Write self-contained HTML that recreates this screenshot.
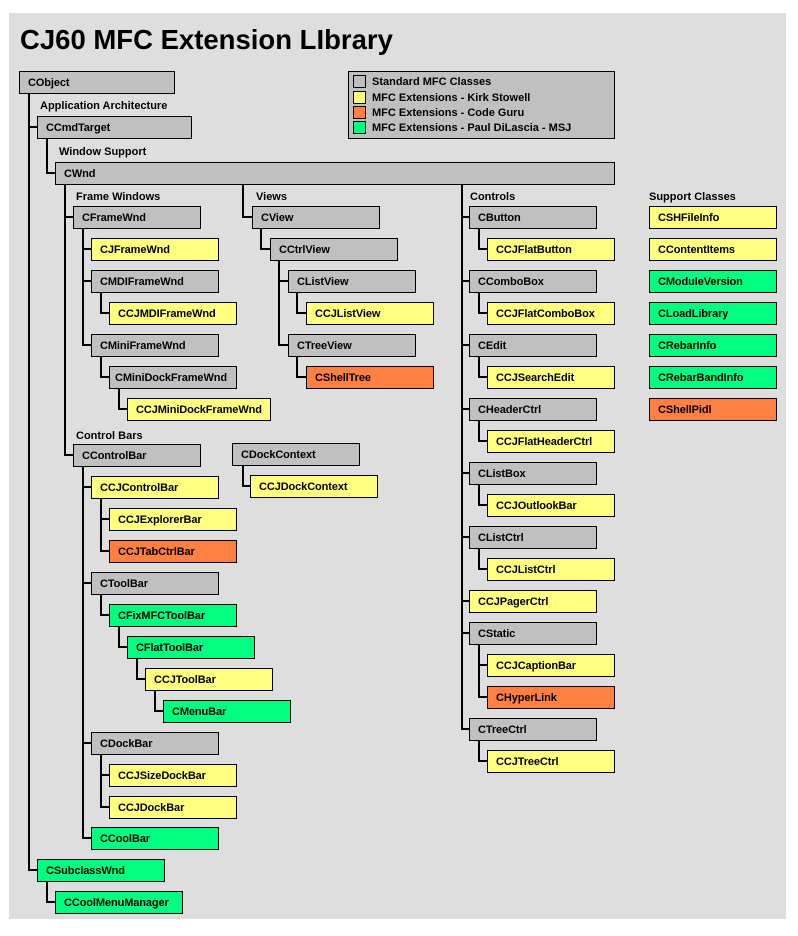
<!DOCTYPE html>
<html><head><meta charset="utf-8"><style>
body{margin:0;width:798px;height:936px;background:#fff;position:relative;overflow:hidden;font-family:"Liberation Sans",Arial,sans-serif;font-weight:bold;font-size:11px;color:#000}
.bg{position:absolute;left:9px;top:13px;width:777px;height:906px;background:#dedede}
.b{position:absolute;box-sizing:border-box;height:23px;width:128px;border:1px solid #000;padding-left:8px;line-height:22px;white-space:nowrap;letter-spacing:-0.1px}
.g{background:#c0c0c0}.y{background:#ffff80}.o{background:#ff8040}.n{background:#00ff80}
.v{position:absolute;width:2px;background:#000}
.h{position:absolute;height:2px;background:#000}
.t{position:absolute;line-height:13px}
.sw{position:absolute;width:11px;height:11px;border:1px solid #000;left:353px}
</style></head><body>
<div class="bg"></div>
<div class="t" style="left:20px;top:24px;font-size:27.5px;line-height:32px">CJ60 MFC Extension LIbrary</div>

<!-- legend -->
<div class="b g" style="left:348px;top:71px;width:267px;height:68px"></div>
<div class="sw g" style="top:75px"></div><div class="t" style="left:372px;top:76px">Standard MFC Classes</div>
<div class="sw y" style="top:91px"></div><div class="t" style="left:372px;top:92px">MFC Extensions - Kirk Stowell</div>
<div class="sw o" style="top:106px"></div><div class="t" style="left:372px;top:107px">MFC Extensions - Code Guru</div>
<div class="sw n" style="top:121px"></div><div class="t" style="left:372px;top:122px">MFC Extensions - Paul DiLascia - MSJ</div>

<!-- section labels -->
<div class="t" style="left:40px;top:100px">Application Architecture</div>
<div class="t" style="left:59px;top:146px">Window Support</div>
<div class="t" style="left:76px;top:191px">Frame Windows</div>
<div class="t" style="left:256px;top:191px">Views</div>
<div class="t" style="left:470px;top:191px">Controls</div>
<div class="t" style="left:649px;top:191px">Support Classes</div>
<div class="t" style="left:76px;top:430px">Control Bars</div>

<!-- lines -->
<div class="v" style="left:28px;top:94px;height:777px"></div>
<div class="h" style="left:28px;top:126px;width:10px"></div>
<div class="h" style="left:28px;top:869px;width:10px"></div>
<div class="v" style="left:46px;top:138px;height:36px"></div>
<div class="h" style="left:46px;top:172px;width:10px"></div>
<div class="v" style="left:64px;top:184px;height:272px"></div>
<div class="h" style="left:64px;top:216px;width:10px"></div>
<div class="h" style="left:64px;top:454px;width:10px"></div>
<div class="v" style="left:242px;top:184px;height:34px"></div>
<div class="h" style="left:242px;top:216px;width:11px"></div>
<div class="v" style="left:461px;top:184px;height:546px"></div>
<div class="h" style="left:461px;top:216px;width:9px"></div>
<div class="h" style="left:461px;top:280px;width:9px"></div>
<div class="h" style="left:461px;top:344px;width:9px"></div>
<div class="h" style="left:461px;top:408px;width:9px"></div>
<div class="h" style="left:461px;top:472px;width:9px"></div>
<div class="h" style="left:461px;top:536px;width:9px"></div>
<div class="h" style="left:461px;top:600px;width:9px"></div>
<div class="h" style="left:461px;top:632px;width:9px"></div>
<div class="h" style="left:461px;top:728px;width:9px"></div>
<!-- controls children -->
<div class="v" style="left:478px;top:228px;height:22px"></div><div class="h" style="left:478px;top:248px;width:10px"></div>
<div class="v" style="left:478px;top:292px;height:22px"></div><div class="h" style="left:478px;top:312px;width:10px"></div>
<div class="v" style="left:478px;top:356px;height:22px"></div><div class="h" style="left:478px;top:376px;width:10px"></div>
<div class="v" style="left:478px;top:420px;height:22px"></div><div class="h" style="left:478px;top:440px;width:10px"></div>
<div class="v" style="left:478px;top:484px;height:22px"></div><div class="h" style="left:478px;top:504px;width:10px"></div>
<div class="v" style="left:478px;top:548px;height:22px"></div><div class="h" style="left:478px;top:568px;width:10px"></div>
<div class="v" style="left:478px;top:644px;height:54px"></div><div class="h" style="left:478px;top:664px;width:10px"></div><div class="h" style="left:478px;top:696px;width:10px"></div>
<div class="v" style="left:478px;top:740px;height:22px"></div><div class="h" style="left:478px;top:760px;width:10px"></div>
<!-- frame -->
<div class="v" style="left:82px;top:228px;height:118px"></div>
<div class="h" style="left:82px;top:248px;width:10px"></div>
<div class="h" style="left:82px;top:280px;width:10px"></div>
<div class="h" style="left:82px;top:344px;width:10px"></div>
<div class="v" style="left:100px;top:292px;height:22px"></div><div class="h" style="left:100px;top:312px;width:10px"></div>
<div class="v" style="left:100px;top:356px;height:22px"></div><div class="h" style="left:100px;top:376px;width:10px"></div>
<div class="v" style="left:118px;top:388px;height:22px"></div><div class="h" style="left:118px;top:408px;width:10px"></div>
<!-- views -->
<div class="v" style="left:260px;top:228px;height:22px"></div><div class="h" style="left:260px;top:248px;width:11px"></div>
<div class="v" style="left:278px;top:260px;height:86px"></div><div class="h" style="left:278px;top:280px;width:11px"></div><div class="h" style="left:278px;top:344px;width:11px"></div>
<div class="v" style="left:296px;top:292px;height:22px"></div><div class="h" style="left:296px;top:312px;width:11px"></div>
<div class="v" style="left:296px;top:356px;height:22px"></div><div class="h" style="left:296px;top:376px;width:11px"></div>
<!-- control bars -->
<div class="v" style="left:82px;top:466px;height:373px"></div>
<div class="h" style="left:82px;top:486px;width:10px"></div>
<div class="h" style="left:82px;top:582px;width:10px"></div>
<div class="h" style="left:82px;top:742px;width:10px"></div>
<div class="h" style="left:82px;top:837px;width:10px"></div>
<div class="v" style="left:100px;top:498px;height:54px"></div><div class="h" style="left:100px;top:518px;width:10px"></div><div class="h" style="left:100px;top:550px;width:10px"></div>
<div class="v" style="left:100px;top:594px;height:22px"></div><div class="h" style="left:100px;top:614px;width:10px"></div>
<div class="v" style="left:118px;top:626px;height:22px"></div><div class="h" style="left:118px;top:646px;width:10px"></div>
<div class="v" style="left:136px;top:658px;height:22px"></div><div class="h" style="left:136px;top:678px;width:10px"></div>
<div class="v" style="left:154px;top:690px;height:22px"></div><div class="h" style="left:154px;top:710px;width:10px"></div>
<div class="v" style="left:100px;top:754px;height:54px"></div><div class="h" style="left:100px;top:774px;width:10px"></div><div class="h" style="left:100px;top:806px;width:10px"></div>
<div class="v" style="left:242px;top:465px;height:22px"></div><div class="h" style="left:242px;top:485px;width:9px"></div>
<div class="v" style="left:46px;top:881px;height:22px"></div><div class="h" style="left:46px;top:901px;width:10px"></div>

<!-- boxes -->
<div class="b g" style="left:19px;top:71px;width:156px">CObject</div>
<div class="b g" style="left:37px;top:116px;width:155px">CCmdTarget</div>
<div class="b g" style="left:55px;top:162px;width:560px">CWnd</div>

<div class="b g" style="left:73px;top:206px">CFrameWnd</div>
<div class="b y" style="left:91px;top:238px">CJFrameWnd</div>
<div class="b g" style="left:91px;top:270px">CMDIFrameWnd</div>
<div class="b y" style="left:109px;top:302px">CCJMDIFrameWnd</div>
<div class="b g" style="left:91px;top:334px">CMiniFrameWnd</div>
<div class="b g" style="left:109px;top:366px;padding-left:5px">CMiniDockFrameWnd</div>
<div class="b y" style="left:127px;top:398px;width:144px">CCJMiniDockFrameWnd</div>

<div class="b g" style="left:73px;top:444px">CControlBar</div>
<div class="b g" style="left:232px;top:443px">CDockContext</div>
<div class="b y" style="left:250px;top:475px">CCJDockContext</div>
<div class="b y" style="left:91px;top:476px">CCJControlBar</div>
<div class="b y" style="left:109px;top:508px">CCJExplorerBar</div>
<div class="b o" style="left:109px;top:540px">CCJTabCtrlBar</div>
<div class="b g" style="left:91px;top:572px">CToolBar</div>
<div class="b n" style="left:109px;top:604px">CFixMFCToolBar</div>
<div class="b n" style="left:127px;top:636px">CFlatToolBar</div>
<div class="b y" style="left:145px;top:668px">CCJToolBar</div>
<div class="b n" style="left:163px;top:700px">CMenuBar</div>
<div class="b g" style="left:91px;top:732px">CDockBar</div>
<div class="b y" style="left:109px;top:764px">CCJSizeDockBar</div>
<div class="b y" style="left:109px;top:796px">CCJDockBar</div>
<div class="b n" style="left:91px;top:827px">CCoolBar</div>
<div class="b n" style="left:37px;top:859px">CSubclassWnd</div>
<div class="b n" style="left:55px;top:891px">CCoolMenuManager</div>

<div class="b g" style="left:252px;top:206px">CView</div>
<div class="b g" style="left:270px;top:238px">CCtrlView</div>
<div class="b g" style="left:288px;top:270px">CListView</div>
<div class="b y" style="left:306px;top:302px">CCJListView</div>
<div class="b g" style="left:288px;top:334px">CTreeView</div>
<div class="b o" style="left:306px;top:366px">CShellTree</div>

<div class="b g" style="left:469px;top:206px">CButton</div>
<div class="b y" style="left:487px;top:238px">CCJFlatButton</div>
<div class="b g" style="left:469px;top:270px">CComboBox</div>
<div class="b y" style="left:487px;top:302px">CCJFlatComboBox</div>
<div class="b g" style="left:469px;top:334px">CEdit</div>
<div class="b y" style="left:487px;top:366px">CCJSearchEdit</div>
<div class="b g" style="left:469px;top:398px">CHeaderCtrl</div>
<div class="b y" style="left:487px;top:430px">CCJFlatHeaderCtrl</div>
<div class="b g" style="left:469px;top:462px">CListBox</div>
<div class="b y" style="left:487px;top:494px">CCJOutlookBar</div>
<div class="b g" style="left:469px;top:526px">CListCtrl</div>
<div class="b y" style="left:487px;top:558px">CCJListCtrl</div>
<div class="b y" style="left:469px;top:590px">CCJPagerCtrl</div>
<div class="b g" style="left:469px;top:622px">CStatic</div>
<div class="b y" style="left:487px;top:654px">CCJCaptionBar</div>
<div class="b o" style="left:487px;top:686px">CHyperLink</div>
<div class="b g" style="left:469px;top:718px">CTreeCtrl</div>
<div class="b y" style="left:487px;top:750px">CCJTreeCtrl</div>

<div class="b y" style="left:649px;top:206px">CSHFileInfo</div>
<div class="b y" style="left:649px;top:238px">CContentItems</div>
<div class="b n" style="left:649px;top:270px">CModuleVersion</div>
<div class="b n" style="left:649px;top:302px">CLoadLibrary</div>
<div class="b n" style="left:649px;top:334px">CRebarInfo</div>
<div class="b n" style="left:649px;top:366px">CRebarBandInfo</div>
<div class="b o" style="left:649px;top:398px">CShellPidl</div>
</body></html>
